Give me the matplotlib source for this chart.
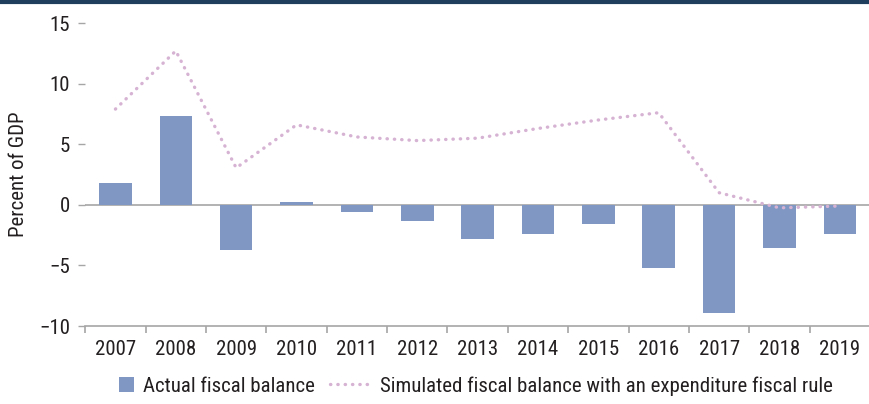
import numpy as np
import matplotlib.pyplot as plt
from matplotlib.lines import Line2D
from matplotlib.patches import Patch, Rectangle
from matplotlib.legend_handler import HandlerPatch

years = ['2007', '2008', '2009', '2010', '2011', '2012', '2013',
         '2014', '2015', '2016', '2017', '2018', '2019']
actual_balance = [1.8, 7.35, -3.7, 0.2, -0.6, -1.3, -2.8,
                  -2.4, -1.6, -5.2, -8.9, -3.6, -2.4]
simulated_balance = [7.9, 12.7, 3.05, 6.6, 5.6, 5.3, 5.5,
                     6.3, 7.0, 7.6, 1.0, -0.25, -0.1]

bar_color = '#7f97c2'
line_color = '#d6b2d3'
grey = '#a6a6a6'
text_color = '#231f20'
fs = 15

plt.rcParams['font.family'] = ['Roboto Condensed', 'Liberation Sans', 'DejaVu Sans']


def square_patch(legend, orig_handle, xdescent, ydescent, width, height, fontsize):
    # small square swatch pushed to the right end of the handle box
    side = 0.7 * fontsize
    return Rectangle((width - xdescent - side, -ydescent + (height - side) / 2),
                     side, side)


fig = plt.figure(figsize=(8.7, 4.04), dpi=100)
ax = fig.add_axes([0.098, 0.193, 0.902, 0.75])

x = np.arange(len(years))
ax.bar(x, actual_balance, width=0.54, color=bar_color, zorder=2)
ax.plot(x, simulated_balance, color=line_color, linewidth=2.4,
        linestyle=(0, (0.1, 2.1)), dash_capstyle='round', zorder=3)
ax.axhline(0, color=grey, linewidth=1.2, zorder=1)

ax.set_xlim(-0.5, len(years) - 0.5)
ax.set_ylim(-10, 15)
ax.set_yticks([-10, -5, 0, 5, 10, 15])
ax.set_yticklabels(['\u221210', '\u22125', '0', '5', '10', '15'])

# category labels centred, tick marks on the boundaries
ax.set_xticks(x)
ax.set_xticklabels(years)
ax.set_xticks(np.arange(-0.5, len(years), 1), minor=True)
ax.tick_params(axis='x', which='major', length=0, pad=10,
               labelsize=fs, labelcolor=text_color)
ax.tick_params(axis='x', which='minor', length=5, width=1.2, color=grey)
ax.tick_params(axis='y', length=5, width=1, color=grey, pad=6,
               labelsize=fs, labelcolor=text_color)

for side in ['top', 'right', 'left']:
    ax.spines[side].set_visible(False)
ax.spines['bottom'].set_color(grey)
ax.spines['bottom'].set_linewidth(1.2)

ax.set_ylabel('Percent of GDP', fontsize=fs, color=text_color, labelpad=8)

handles = [Patch(facecolor=bar_color, edgecolor='none'),
           Line2D([], [], color=line_color, linewidth=2.4,
                  linestyle=(0, (0.1, 2.1)), dash_capstyle='round')]
fig.legend(handles, ['Actual fiscal balance',
                     'Simulated fiscal balance with an expenditure fiscal rule'],
           loc='center', bbox_to_anchor=(0.532, 0.045), ncol=2, frameon=False,
           fontsize=fs, handlelength=1.95, handleheight=0.8, columnspacing=0.7,
           handletextpad=0.45, labelcolor=text_color,
           handler_map={Patch: HandlerPatch(patch_func=square_patch)})

# dark rule along the top edge
fig.add_artist(Line2D([0, 1], [0.995, 0.995], transform=fig.transFigure,
                      color='#1f3d5c', linewidth=3))

fig.savefig('out.png', dpi=100)
